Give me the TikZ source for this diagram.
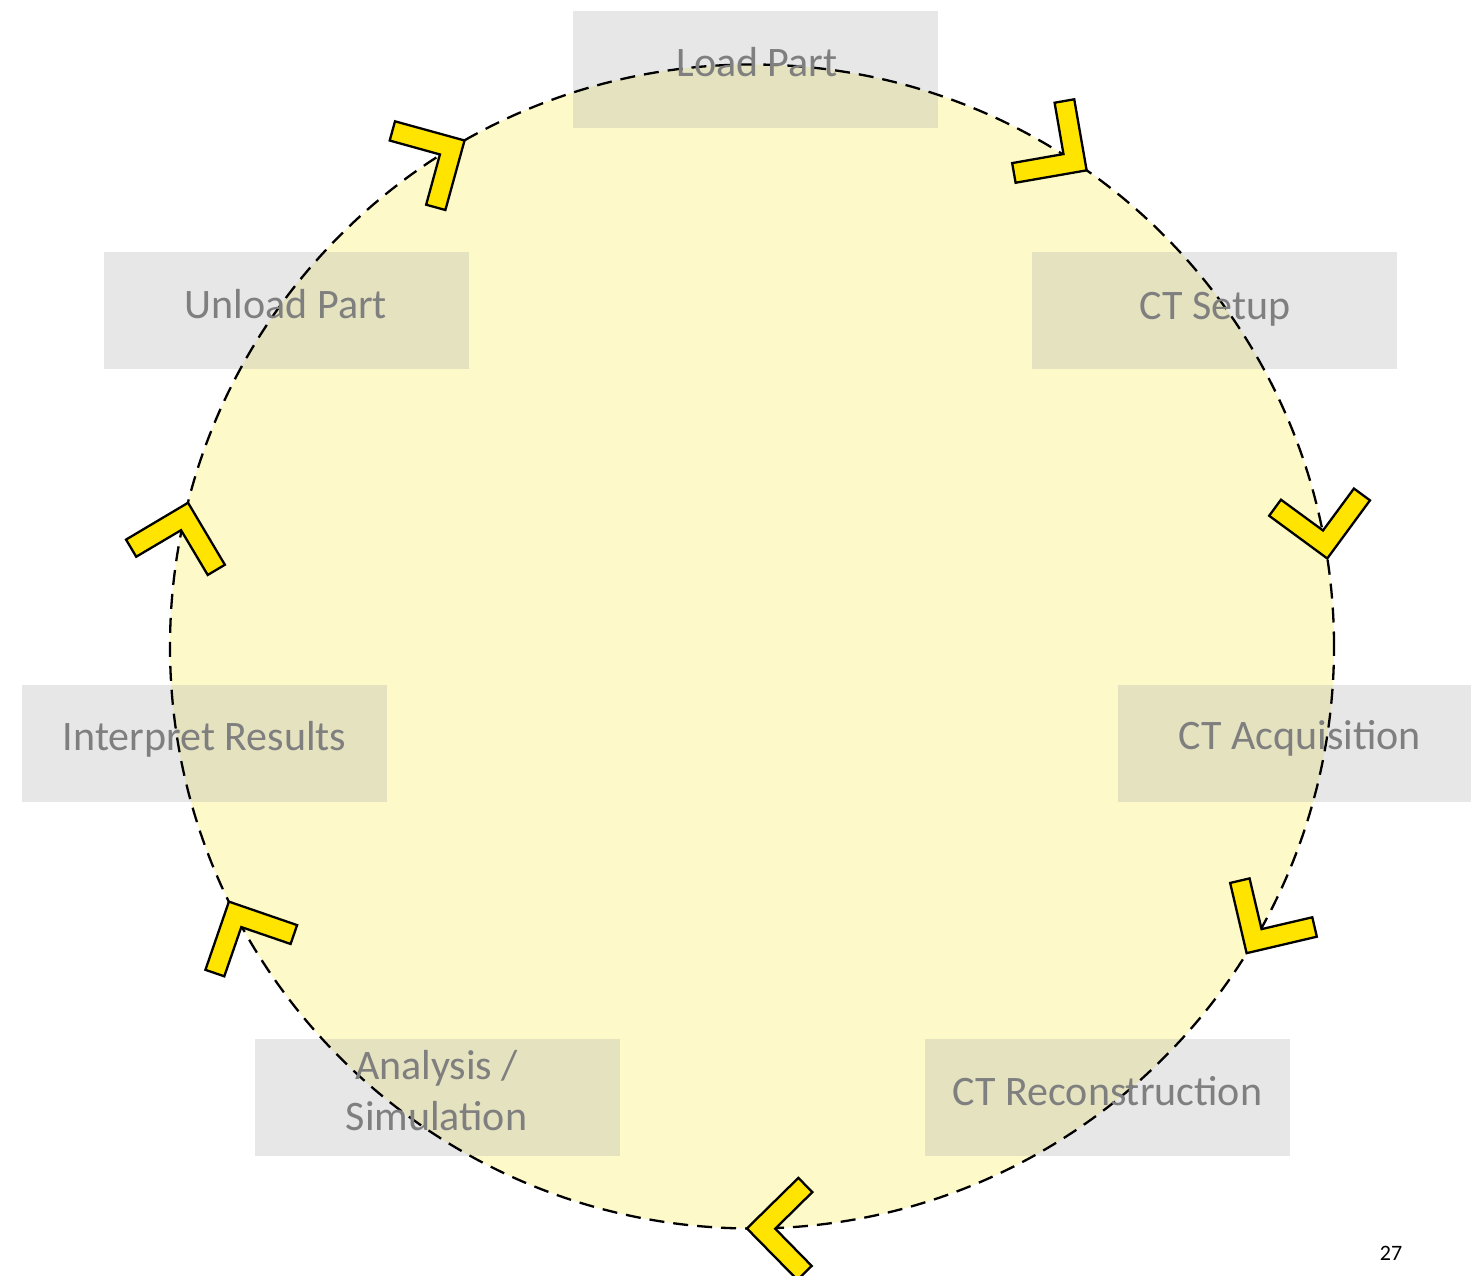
\documentclass[tikz,border=0pt]{standalone}
\usepackage{fontspec}
\setmainfont{Carlito}
\usetikzlibrary{calc}
\definecolor{circfill}{RGB}{253,249,201}
\definecolor{chevyellow}{RGB}{255,228,0}
\definecolor{boxgray}{RGB}{174,174,174}
\definecolor{labelgray}{RGB}{127,127,127}
\begin{document}
\begin{tikzpicture}[x=1pt,y=1pt,
  stepbox/.style={rectangle, fill=boxgray, fill opacity=0.3, draw=none,
    minimum width=365pt, minimum height=117pt, inner sep=0pt},
  steplabel/.style={text=labelgray, font=\fontsize{42}{51}\selectfont,
    inner sep=0pt, anchor=base},
  chev/.style={fill=chevyellow, draw=black, line width=2.3pt, line join=miter},
  ring/.style={draw=black, line width=2.3pt, dash pattern=on 15pt off 9pt},
  chevron/.pic={\path[chev] (0,0) -- (-51,51) -- (-65.1,36.9) -- (-28.3,0)
      -- (-65.1,-36.9) -- (-51,-51) -- cycle;}
]
\useasboundingbox (0,0) rectangle (1471,1275);
\coordinate (ctr) at (752,628.5);
\fill[circfill] (ctr) circle[radius=582pt];

% boxes
\node[stepbox] (bLoad) at (755,1205) {};
\node[stepbox] (bSetup) at (1214.5,964) {};
\node[stepbox] (bAcq) at (1300.5,531) {};
\node[stepbox] (bRec) at (1107.5,178) {};
\node[stepbox] (bAna) at (437.5,178) {};
\node[stepbox] (bInt) at (204.5,531.5) {};
\node[stepbox] (bUnl) at (286.5,964) {};

\draw[ring] (ctr) circle[radius=582pt];

% labels
\node[steplabel] (tLoad) at (757,1198) {Load Part};
\node[steplabel] (tSetup) at (1215,955.5) {CT Setup};
\node[steplabel] (tAcq) at (1300,525) {CT Acquisition};
\node[steplabel] (tRec) at (1107.5,169.5) {CT Reconstruction};
\node[steplabel, align=center] (tAna) at (436.5,144.5) {Analysis /\\Simulation};
\node[steplabel] (tInt) at (204.5,524.5) {Interpret Results};
\node[steplabel] (tUnl) at (286,956.5) {Unload Part};

% chevrons
\foreach \a in {54.9, 8.7, -31.8, -90.5, 206, 165.7, 119.6}{
  \pgfmathsetmacro{\r}{\a-90}
  \pic[rotate=\r] at ($(ctr)+(\a:582pt)$) {chevron};
}

\node[font=\fontsize{22}{26}\selectfont, anchor=base, inner sep=0pt] (pnum) at (1391,15) {27};
\end{tikzpicture}
\end{document}
